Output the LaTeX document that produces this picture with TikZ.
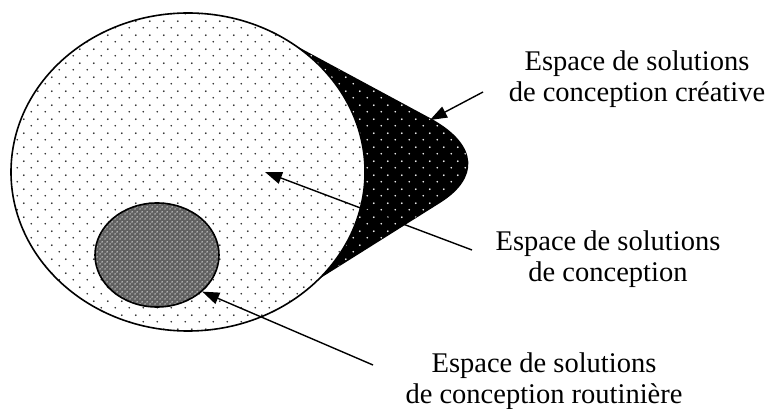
\documentclass[tikz,border=0pt]{standalone}
\usepackage{fontspec}
\setmainfont{Liberation Serif}
\usepackage{tikz}
\usetikzlibrary{shapes.geometric}
\usetikzlibrary{arrows.meta}
\usetikzlibrary{patterns.meta}
\usetikzlibrary{positioning}

\tikzdeclarepattern{
	name=dotgrid, type=uncolored,
	bounding box={(0pt,0pt) and (14pt,14pt)},
	tile size={(14pt,14pt)},
	code={
		\fill (3.5pt,3.5pt) circle (1pt);
		\fill (10.5pt,10.5pt) circle (1pt);
	}
}
\tikzdeclarepattern{
	name=finecheck, type=uncolored,
	bounding box={(0pt,0pt) and (4.5pt,4.5pt)},
	tile size={(4.5pt,4.5pt)},
	code={
		\fill (1.125pt,1.125pt) circle (0.8pt);
		\fill (3.375pt,3.375pt) circle (0.8pt);
	}
}

\tikzset{
	space/.style={ellipse, draw, line width=1.6pt, inner sep=0pt},
	lbl/.style={align=center, font=\fontsize{28.5}{31}\selectfont},
	arrow/.style={-{Triangle[length=17pt,width=12pt]}, line width=1.4pt}
}

\begin{document}
\begin{tikzpicture}[x=1pt,y=-1pt]
	     \useasboundingbox (0,0) rectangle (769,409);
	     % espace creatif
	     \filldraw[line width=1.6pt, fill=black, postaction={pattern=dotgrid, pattern color=white}]
	       (265,30) -- (432,120) .. controls (478,146) and (478,178) .. (440,202)
	       -- (300,290) -- (250,170) -- cycle;
	     \node[space, minimum width=354pt, minimum height=318pt,
	       preaction={fill=white}, pattern=dotgrid, pattern color=black!85] (conc) at (188,172) {};
	     \node[space, minimum width=124pt, minimum height=104pt,
	       preaction={fill=black!62}, pattern=finecheck, pattern color=white] (rout) at (157,255) {};

	     \node[lbl] (creat) at (637,79) {Espace de solutions\\de conception créative};
	     \node[lbl] (concl) at (608,259) {Espace de solutions\\de conception};
	     \node[lbl] (routl) at (544,381) {Espace de solutions\\de conception routinière};

	     \coordinate (c1) at (483,92);
	     \coordinate (h1) at (430,120);
	     \coordinate (c2) at (472,250);
	     \coordinate (h2) at (265,172);
	     \coordinate (c3) at (373,365);

	     \path[arrow]
	       (c1) edge (h1)
	       (c2) edge (h2)
	       (c3) edge (rout.-39)
	     ;
\end{tikzpicture}
\end{document}
